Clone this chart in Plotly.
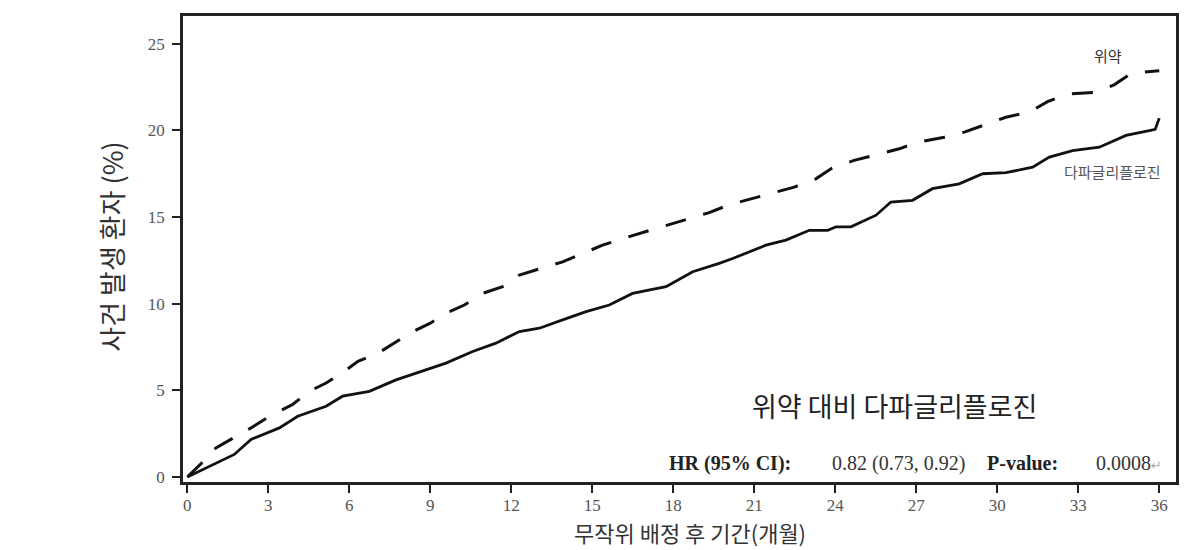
import plotly.graph_objects as go

# Placebo (위약) – dashed
placebo_month = [0, 0.57, 1.06, 1.74, 2.36, 3.04, 3.9, 4.52, 5.14, 5.82, 6.32, 7.06, 7.68, 8.36, 9.0,
                 9.58, 10.26, 10.94, 11.68, 12.3, 13.1, 13.9, 14.64, 15.38, 16.12, 16.93, 17.73, 18.53,
                 19.33, 20.07, 20.88, 21.74, 22.48, 23.28, 23.84, 24.7, 25.44, 26.37, 27.05, 28.04,
                 28.78, 29.58, 30.32, 31.19, 31.86, 32.6, 33.6, 34.33, 34.96, 36.0]
placebo_pct = [0, 0.86, 1.68, 2.26, 2.83, 3.5, 4.18, 4.94, 5.42, 6.09, 6.67, 7.14, 7.72, 8.39, 8.87,
               9.44, 9.92, 10.59, 10.98, 11.65, 12.03, 12.41, 12.89, 13.37, 13.75, 14.14, 14.52, 14.9,
               15.25, 15.7, 16.05, 16.44, 16.72, 17.2, 17.78, 18.26, 18.54, 18.93, 19.31, 19.6,
               19.89, 20.36, 20.75, 21.05, 21.65, 22.09, 22.18, 22.62, 23.28, 23.43]

# Dapagliflozin (다파글리플로진) – solid
dapa_month = [0, 0.57, 1.19, 1.74, 2.36, 2.98, 3.41, 4.09, 5.14, 5.75, 6.74, 7.73, 8.59, 9.58, 10.57,
              11.43, 12.3, 13.04, 13.9, 14.77, 15.63, 16.49, 17.73, 18.72, 19.7, 20.2, 21.43, 22.17,
              23.04, 23.72, 24.03, 24.58, 25.51, 26.06, 26.86, 27.6, 28.59, 29.46, 30.32, 31.31,
              31.93, 32.79, 33.78, 34.77, 35.63, 35.85, 36.0]
dapa_pct = [0, 0.44, 0.92, 1.3, 2.17, 2.55, 2.83, 3.5, 4.08, 4.66, 4.94, 5.6, 6.05, 6.57, 7.24,
            7.72, 8.39, 8.58, 9.06, 9.54, 9.92, 10.59, 10.98, 11.84, 12.32, 12.6, 13.37, 13.66,
            14.23, 14.23, 14.43, 14.43, 15.1, 15.86, 15.96, 16.63, 16.91, 17.49, 17.55, 17.87,
            18.45, 18.83, 19.02, 19.7, 19.98, 20.05, 20.7]

x_ticks = [0, 3, 6, 9, 12, 15, 18, 21, 24, 27, 30, 33, 36]
y_ticks = [0, 5, 10, 15, 20, 25]

KR = "Noto Sans CJK KR"
SERIF = "Liberation Serif"

fig = go.Figure()
fig.add_trace(go.Scatter(x=placebo_month, y=placebo_pct, mode="lines",
                         line=dict(color="#111111", width=3, dash="21px,18px"),
                         showlegend=False, hoverinfo="skip"))
fig.add_trace(go.Scatter(x=dapa_month, y=dapa_pct, mode="lines",
                         line=dict(color="#111111", width=2.8),
                         showlegend=False, hoverinfo="skip"))

axis_common = dict(showline=True, linecolor="#222222", linewidth=2.5, mirror=True,
                   ticks="outside", ticklen=8, tickwidth=2, tickcolor="#222222",
                   showgrid=False, zeroline=False,
                   tickfont=dict(family=SERIF, size=17, color="#555555"))

fig.update_xaxes(range=[-0.16, 36.62], tickvals=x_ticks, ticktext=[str(t) for t in x_ticks],
                 ticklabelstandoff=-2, **axis_common)
fig.update_yaxes(range=[-0.29, 26.59], tickvals=y_ticks, ticktext=[str(t) for t in y_ticks],
                 ticklabelstandoff=4, **axis_common)

ann = []
# axis titles
ann.append(dict(text="사건 발생 환자 (%)", xref="paper", yref="paper", x=-0.0715, y=0.505,
                textangle=-90, showarrow=False, xanchor="center", yanchor="middle",
                font=dict(family=KR, size=27, color="#333333")))
ann.append(dict(text="무작위 배정 후 기간(개월)", xref="paper", yref="paper", x=0.5106, y=-0.1429,
                showarrow=False, xanchor="center", yanchor="bottom", borderpad=0,
                font=dict(family=KR, size=22, color="#333333")))
ann.append(dict(text="환자 수", xref="paper", yref="paper", x=-0.0765, y=-0.134,
                showarrow=False, xanchor="center", yanchor="top",
                font=dict(family=KR, size=20, color="#333333")))
# inside annotations
ann.append(dict(text="위약 대비 다파글리플로진", x=26.21, y=4.1, showarrow=False,
                xanchor="center", yanchor="middle", font=dict(family=KR, size=27, color="#222222")))
ann.append(dict(text="<b>HR (95% CI):</b>", x=17.75, y=0.8, showarrow=False,
                xanchor="left", yanchor="middle", font=dict(family=SERIF, size=20, color="#222222")))
ann.append(dict(text="0.82 (0.73, 0.92)", x=23.8, y=0.8, showarrow=False,
                xanchor="left", yanchor="middle", font=dict(family=SERIF, size=20, color="#333333")))
ann.append(dict(text="<b>P-value:</b>", x=29.55, y=0.8, showarrow=False,
                xanchor="left", yanchor="middle", font=dict(family=SERIF, size=20, color="#222222")))
ann.append(dict(text="0.0008<span style='color:#aaaaaa;font-family:DejaVu Sans;font-size:13px'>↵</span>",
                x=33.6, y=0.8, showarrow=False,
                xanchor="left", yanchor="middle", font=dict(family=SERIF, size=20, color="#333333")))
# curve labels
ann.append(dict(text="위약", x=34.1, y=24.3, showarrow=False, xanchor="center", yanchor="middle",
                font=dict(family=KR, size=15, color="#333333")))
ann.append(dict(text="다파글리플로진", x=34.25, y=17.6, showarrow=False, xanchor="center",
                yanchor="middle", font=dict(family=KR, size=15, color="#555555")))

fig.update_layout(width=1192, height=550, margin=dict(l=175, r=24, t=5, b=76),
                  plot_bgcolor="white", paper_bgcolor="white", annotations=ann)

fig.write_html("out.html")
